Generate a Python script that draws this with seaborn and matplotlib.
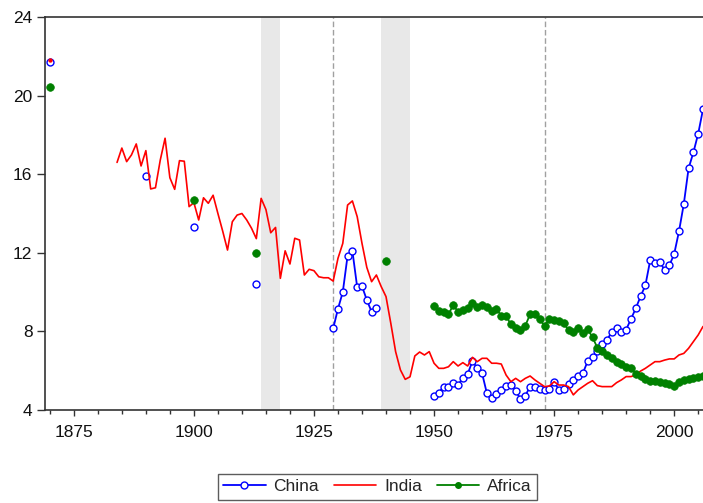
import pandas as pd
import seaborn as sns
import matplotlib.pyplot as plt
from matplotlib.lines import Line2D

# valores
china_years = [1870, 1890, 1900, 1913] + list(range(1929, 1939)) + list(range(1950, 2007))
china_vals = [21.7, 15.9, 13.3, 10.4,
              8.15, 9.15, 10.0, 11.85, 12.1, 10.25, 10.3, 9.6, 9.0, 9.2,
              4.70, 4.88, 5.19, 5.19, 5.39, 5.27, 5.64, 5.83, 6.49, 6.12,
              5.87, 4.85, 4.60, 4.80, 5.02, 5.24, 5.27, 4.97, 4.56, 4.73,
              5.19, 5.19, 5.05, 5.02, 5.05, 5.44, 5.02, 5.08, 5.32, 5.53,
              5.75, 5.88, 6.49, 6.68, 7.00, 7.34, 7.56, 7.97, 8.15, 7.95,
              8.09, 8.63, 9.17, 9.78, 10.34, 11.61, 11.46, 11.55, 11.12, 11.36,
              11.94, 13.09, 14.48, 16.30, 17.11, 18.06, 19.30]

india_years = [1870] + list(range(1884, 2007))
india_vals = [21.8,
              16.60, 17.33, 16.64, 16.98, 17.54, 16.42, 17.20, 15.25, 15.31, 16.72,
              17.83, 15.82, 15.23, 16.69, 16.66, 14.35, 14.55, 13.67, 14.80, 14.52,
              14.93, 14.00, 13.10, 12.14, 13.58, 13.92, 14.00, 13.67, 13.25, 12.72,
              14.77, 14.20, 13.02, 13.29, 10.70, 12.10, 11.43, 12.74, 12.65, 10.87,
              11.16, 11.09, 10.78, 10.73, 10.73, 10.56, 11.72, 12.48, 14.43, 14.64,
              13.84, 12.48, 11.26, 10.53, 10.87, 10.28, 9.77, 8.41, 6.97, 6.04,
              5.56, 5.69, 6.75, 6.95, 6.80, 6.97, 6.38, 6.12, 6.12, 6.20,
              6.46, 6.24, 6.41, 6.24, 6.68, 6.46, 6.63, 6.63, 6.38, 6.38,
              6.34, 5.78, 5.44, 5.61, 5.44, 5.61, 5.73, 5.53, 5.36, 5.19,
              5.22, 5.44, 5.27, 5.27, 5.19, 4.77, 5.02, 5.19, 5.36, 5.49,
              5.24, 5.19, 5.19, 5.19, 5.39, 5.53, 5.70, 5.70, 5.78, 5.98,
              6.12, 6.29, 6.46, 6.46, 6.54, 6.60, 6.60, 6.80, 6.88, 7.14,
              7.48, 7.82, 8.25]

africa_years = [1870, 1900, 1913, 1940] + list(range(1950, 2007))
africa_vals = [20.45, 14.7, 12.0, 11.6,
               9.31, 9.04, 9.00, 8.87, 9.34, 9.00, 9.09, 9.20, 9.43, 9.26,
               9.34, 9.22, 9.05, 9.14, 8.80, 8.78, 8.36, 8.19, 8.07, 8.29,
               8.87, 8.87, 8.61, 8.29, 8.61, 8.58, 8.55, 8.43, 8.05, 7.95,
               8.15, 7.90, 8.10, 7.70, 7.17, 6.98, 6.80, 6.63, 6.46, 6.34,
               6.20, 6.15, 5.85, 5.73, 5.56, 5.49, 5.49, 5.44, 5.39, 5.31,
               5.24, 5.44, 5.53, 5.58, 5.65, 5.70, 5.73]

labels = ['China', 'India', 'Africa']
war_periods = [(1914, 1918), (1939, 1945)]
break_years = [1929, 1973]


def to_frame(years, vals):
    df = pd.DataFrame({'year': years, 'val': vals})
    # cada trecho contínuo vira uma "unidade" para não ligar os buracos
    df['seg'] = (df['year'].diff() > 1).cumsum()
    return df


df_china = to_frame(china_years, china_vals)
df_india = to_frame(india_years, india_vals)
df_africa = to_frame(africa_years, africa_vals)

sns.set_style('ticks')
plt.rcParams['font.family'] = ['Liberation Sans', 'DejaVu Sans']

fig = plt.figure(figsize=(7.03, 5.03), dpi=100)
ax = fig.add_axes([45 / 703, 93 / 503, 658 / 703, 393 / 503])

for a, b in war_periods:
    ax.axvspan(a, b, color='#e8e8e8', lw=0, zorder=0)
for yr in break_years:
    ax.axvline(yr, color='#a0a0a0', lw=1, ls=(0, (4, 2)), zorder=1)

sns.lineplot(data=df_china, x='year', y='val', units='seg', estimator=None,
             color='blue', lw=1.3, marker='o', markersize=5,
             markerfacecolor='white', markeredgecolor='blue',
             markeredgewidth=1.0, legend=False, ax=ax, zorder=3)

sns.lineplot(data=df_india, x='year', y='val', units='seg', estimator=None,
             color='red', lw=1.2, legend=False, ax=ax, zorder=4)
# pontos isolados da Índia (sem linha)
sizes = df_india.groupby('seg')['year'].transform('size')
sns.scatterplot(data=df_india[sizes == 1], x='year', y='val', color='red',
                s=10, linewidth=0, legend=False, ax=ax, zorder=4)

sns.lineplot(data=df_africa, x='year', y='val', units='seg', estimator=None,
             color='#008000', lw=1.3, marker='o', markersize=5.5,
             markerfacecolor='#008000', markeredgecolor='#008000',
             markeredgewidth=0.5, legend=False, ax=ax, zorder=5)

ax.set_xlim(1869, 2006)
ax.set_ylim(4, 24)
ax.set_xticks(range(1875, 2001, 25))
ax.set_xticks(range(1870, 2006, 5), minor=True)
ax.set_yticks(range(4, 25, 4))
ax.set_xlabel('')
ax.set_ylabel('')

ax.spines['right'].set_visible(False)
for s in ['left', 'bottom', 'top']:
    ax.spines[s].set_color('#333333')
    ax.spines[s].set_linewidth(1.2)

ax.tick_params(axis='both', which='both', direction='out', color='#333333',
               width=1, labelsize=12.5, labelcolor='#111111')
ax.tick_params(axis='y', which='major', length=6, pad=3)
ax.tick_params(axis='x', which='major', length=4.5, pad=6)
ax.tick_params(axis='x', which='minor', length=3)

handles = [
    Line2D([], [], color='blue', lw=1.3, marker='o', markersize=5,
           markerfacecolor='white', markeredgecolor='blue', markeredgewidth=1.0),
    Line2D([], [], color='red', lw=1.2),
    Line2D([], [], color='#008000', lw=1.3, marker='o', markersize=4,
           markerfacecolor='#008000', markeredgecolor='#008000'),
]
leg = fig.legend(handles, labels, loc='center', bbox_to_anchor=(377.5 / 703, 0.032),
                 ncol=3, fontsize=12.5, frameon=True, fancybox=False,
                 handlelength=2.45, handletextpad=0.45, columnspacing=0.85,
                 borderpad=0.3, borderaxespad=0)
leg.get_frame().set_edgecolor('#333333')
leg.get_frame().set_linewidth(1.0)

fig.savefig('out.png', dpi=100)
